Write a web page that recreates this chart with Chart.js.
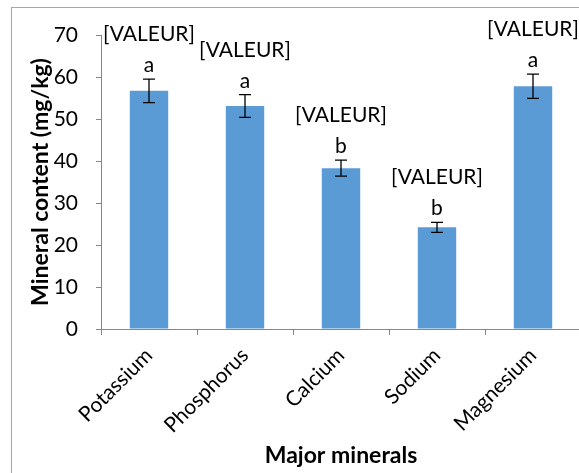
<!DOCTYPE html>
<html>
<head>
<meta charset="utf-8">
<script src="https://cdn.jsdelivr.net/npm/chart.js@4/dist/chart.umd.min.js"></script>
<style>
  html, body { margin: 0; padding: 0; overflow: hidden; background: #fff; }
  #wrap { width: 585px; height: 473px; }
</style>
</head>
<body>
<div id="wrap"><canvas id="bar-chart"></canvas></div>
<script>
// Chart data
const minerals = ['Potassium', 'Phosphorus', 'Calcium', 'Sodium', 'Magnesium'];
const contents = [56.7, 53.1, 38.3, 24.2, 57.8];
const errors = [2.8, 2.7, 1.9, 1.2, 2.9];
const letters = ['a', 'a', 'b', 'b', 'a'];
const valueTags = ['[VALEUR]', '[VALEUR]', '[VALEUR]', '[VALEUR]', '[VALEUR]'];
const yTicks = [0, 10, 20, 30, 40, 50, 60, 70];

const fontFamily = 'Lato, "Open Sans", sans-serif';

// gray frame round the chart, open on the right and bottom like the screenshot
const framePlugin = {
    id: 'frame',
    beforeDraw(chart) {
        const ctx = chart.ctx;
        ctx.save();
        ctx.strokeStyle = '#a6a6a6';
        ctx.lineWidth = 1;
        ctx.strokeRect(11.5, 7.5, 800, 800);
        ctx.restore();
    }
};

// error bars, letters and the value tags above every bar
const annotatePlugin = {
    id: 'annotate',
    afterDatasetsDraw(chart) {
        const ctx = chart.ctx;
        const xs = chart.scales.x;
        const ys = chart.scales.y;
        ctx.save();
        ctx.strokeStyle = '#000';
        ctx.fillStyle = '#000';
        ctx.lineWidth = 1.3;
        contents.forEach((v, i) => {
            const x = xs.getPixelForValue(i);
            const top = ys.getPixelForValue(v + errors[i]);
            const bottom = ys.getPixelForValue(v - errors[i]);
            ctx.beginPath();
            ctx.moveTo(x, top);
            ctx.lineTo(x, bottom);
            ctx.moveTo(x - 6, top);
            ctx.lineTo(x + 6, top);
            ctx.moveTo(x - 6, bottom);
            ctx.lineTo(x + 6, bottom);
            ctx.stroke();

            ctx.font = '21px ' + fontFamily;
            ctx.textAlign = 'center';
            ctx.textBaseline = 'alphabetic';
            ctx.fillText(letters[i], x, top - 7);
            ctx.fillText(valueTags[i], x, top - 38);
        });
        ctx.restore();
    }
};

new Chart(document.getElementById('bar-chart'), {
    type: 'bar',
    data: {
        labels: minerals,
        datasets: [{
            data: contents,
            backgroundColor: '#5B9BD5',
            borderWidth: 0,
            barPercentage: 0.4,
            categoryPercentage: 1.0
        }]
    },
    options: {
        responsive: true,
        maintainAspectRatio: false,
        animation: false,
        layout: {
            padding: { top: 35, right: 4, left: 0, bottom: 0 }
        },
        plugins: {
            legend: { display: false },
            tooltip: { enabled: false }
        },
        scales: {
            x: {
                grid: {
                    display: true,
                    drawOnChartArea: false,
                    drawTicks: true,
                    tickLength: 6,
                    color: '#868686',
                    offset: true
                },
                border: { color: '#868686' },
                ticks: {
                    color: '#000',
                    font: { family: fontFamily, size: 21 },
                    maxRotation: 45,
                    minRotation: 45,
                    padding: 8
                },
                title: {
                    display: true,
                    text: 'Major minerals',
                    color: '#000',
                    font: { family: fontFamily, size: 23, weight: 'bold' },
                    padding: { top: 0, bottom: 4 }
                },
                afterFit(scale) {
                    scale.height = 144;
                }
            },
            y: {
                min: 0,
                max: 70,
                afterBuildTicks(scale) {
                    scale.ticks = yTicks.map(v => ({ value: v }));
                },
                grid: {
                    display: true,
                    drawOnChartArea: false,
                    drawTicks: true,
                    tickLength: 5,
                    color: '#868686'
                },
                border: { color: '#868686' },
                ticks: {
                    color: '#000',
                    font: { family: fontFamily, size: 21 },
                    padding: 18
                },
                title: {
                    display: true,
                    text: 'Mineral content (mg/kg)',
                    color: '#000',
                    font: { family: fontFamily, size: 23, weight: 'bold' },
                    padding: { top: 27, bottom: 0 }
                },
                afterFit(scale) {
                    scale.width = 101;
                }
            }
        }
    },
    plugins: [framePlugin, annotatePlugin]
});
</script>
</body>
</html>
